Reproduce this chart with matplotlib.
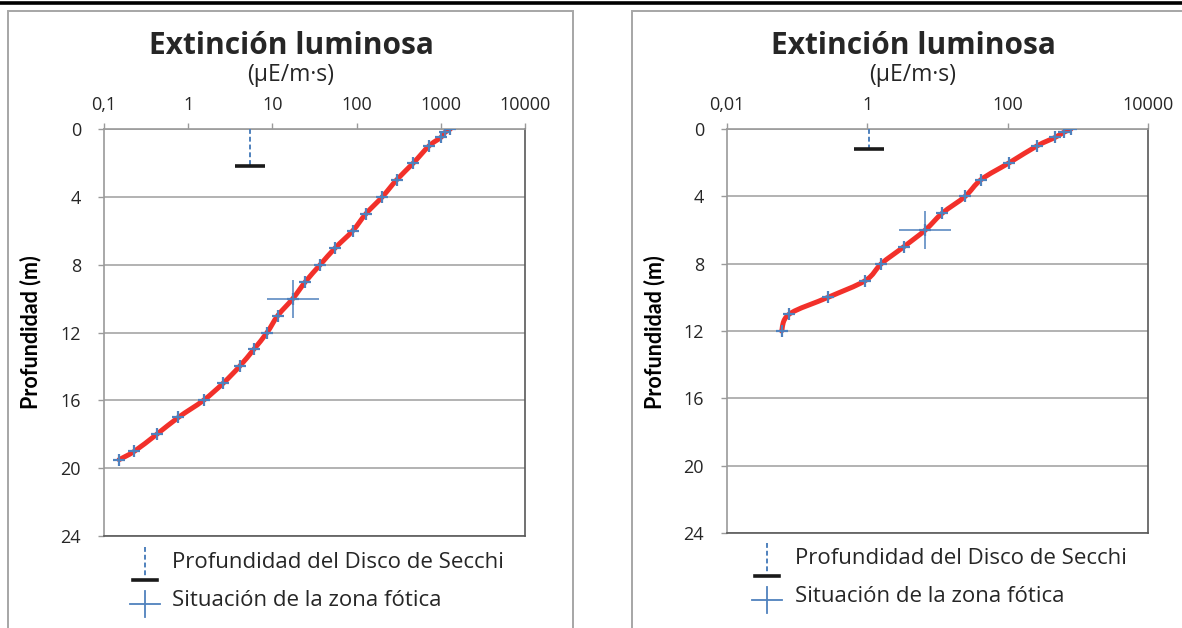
import numpy as np
import matplotlib
matplotlib.use('Agg')
import matplotlib.pyplot as plt
from matplotlib.path import Path
from matplotlib.patches import PathPatch, Rectangle
from matplotlib.lines import Line2D
from matplotlib.ticker import NullLocator

plt.rcParams['font.family'] = ['Open Sans', 'DejaVu Sans']
BOLDY = ['Lato', 'DejaVu Sans']

# ---- data ----
# left profile
depth_a = [0, 0.2, 0.5, 1, 2, 3, 4, 5, 6, 7, 8, 9, 10, 11, 12, 13, 14, 15, 16, 17, 18, 19, 19.5]
light_a = [1300, 1120, 1000, 724, 473, 299, 202, 129, 90, 56, 37, 24.7, 17.5, 11.6, 8.65, 6.0,
           4.07, 2.59, 1.52, 0.767, 0.424, 0.23, 0.151]
secchi_a = (5.4, 2.2)     # (light, depth)
fotica_a = (17.5, 10)

# right profile
depth_b = [0, 0.2, 0.5, 1, 2, 3, 4, 5, 6, 7, 8, 9, 10, 11, 12]
light_b = [800, 628, 474, 263, 106, 42, 24.8, 11.7, 6.7, 3.3, 1.585, 0.94, 0.276, 0.077, 0.06]
secchi_b = (1.05, 1.2)
fotica_b = (6.7, 6)

xticks_a = [0.1, 1, 10, 100, 1000, 10000]
xlabels_a = ['0,1', '1', '10', '100', '1000', '10000']
xticks_b = [0.01, 1, 100, 10000]
xlabels_b = ['0,01', '1', '100', '10000']
yticks = [0, 4, 8, 12, 16, 20, 24]

W, H = 1182, 628
RED = '#f2302a'
BLUE = '#4f81bd'
GRID = '#a6a6a6'
TXT = '#262626'


def smooth_path(x, y):
    # Excel-like smoothed line: Catmull-Rom bezier in (log x, depth) space
    pts = np.column_stack([np.log10(x), np.array(y, float)])
    n = len(pts)
    verts = [pts[0]]
    codes = [Path.MOVETO]
    for i in range(n - 1):
        p0 = pts[i - 1] if i > 0 else pts[i]
        p1 = pts[i]
        p2 = pts[i + 1]
        p3 = pts[i + 2] if i + 2 < n else pts[i + 1]
        verts += [p1 + (p2 - p0) / 6, p2 - (p3 - p1) / 6, p2]
        codes += [Path.CURVE4] * 3
    verts = np.array(verts)
    verts[:, 0] = 10 ** verts[:, 0]
    return Path(verts, codes)


def fx(x):
    return x / W


def fy(y):
    return 1 - y / H


fig = plt.figure(figsize=(W / 100, H / 100), dpi=100)

# panel frames and the black rule on top
fig.add_artist(Rectangle((fx(8), fy(700)), fx(573 - 8), (700 - 11) / H, transform=fig.transFigure,
                         fill=False, edgecolor=GRID, lw=1.4))
fig.add_artist(Rectangle((fx(632), fy(700)), fx(1300 - 632), (700 - 11) / H, transform=fig.transFigure,
                         fill=False, edgecolor=GRID, lw=1.4))
fig.add_artist(Line2D([0, 1], [fy(3), fy(3)], transform=fig.transFigure, color='black', lw=2.6))


def panel(rect, depth, light, secchi, fotica, xlim, xt, xl, cx, ylab_x, leg_x, leg_sym):
    ax = fig.add_axes(rect)
    ax.set_xscale('log')
    ax.set_xlim(*xlim)
    ax.set_ylim(24, 0)
    ax.xaxis.tick_top()
    ax.set_xticks(xt)
    ax.set_xticklabels(xl)
    ax.xaxis.set_minor_locator(NullLocator())
    ax.set_yticks(yticks)
    ax.yaxis.grid(True, color=GRID, lw=1.2)
    ax.set_axisbelow(True)
    for s in ['top', 'left']:
        ax.spines[s].set_color('#9a9a9a')
        ax.spines[s].set_linewidth(1.2)
    for s in ['right', 'bottom']:
        ax.spines[s].set_color('#595959')
        ax.spines[s].set_linewidth(1.2)
    ax.tick_params(axis='x', direction='out', length=4.5, width=1, color='#9a9a9a',
                   labelsize=13, labelcolor=TXT, pad=6)
    ax.tick_params(axis='y', direction='out', length=4.5, width=1, color='#9a9a9a',
                   labelsize=13, labelcolor=TXT, pad=12)

    ax.add_patch(PathPatch(smooth_path(light, depth), fill=False, edgecolor=RED, lw=3.6,
                           capstyle='round', joinstyle='round', zorder=3))
    ax.plot(light, depth, linestyle='none', marker='+', ms=8, mew=1.6, color=BLUE, zorder=4)

    # Secchi disk depth
    ax.vlines(secchi[0], 0, secchi[1], colors=BLUE, linestyles=(0, (2.5, 1.5)), lw=1.4, zorder=4)
    ax.plot([secchi[0]], [secchi[1]], marker='_', ms=22, mew=2.6, color='#1a1a1a', zorder=4)

    # photic zone
    ax.plot([fotica[0]], [fotica[1]], marker='_', ms=37, mew=1.1, color=BLUE, zorder=5)
    ax.plot([fotica[0]], [fotica[1]], marker='|', ms=28, mew=1.1, color=BLUE, zorder=5)

    fig.text(fx(cx), fy(46), 'Extinción luminosa', ha='center', va='center',
             fontsize=21.5, fontweight='bold', color=TXT)
    fig.text(fx(cx), fy(75), '(µE/m·s)', ha='center', va='center', fontsize=16.5, color=TXT)
    fig.text(fx(ylab_x), fy(332), 'Profundidad (m)', rotation=90, ha='center', va='center',
             fontsize=15.5, fontweight='bold', color='black', family=BOLDY)

    # legend below the plot
    sx, y1, y2, y3 = leg_sym
    fig.add_artist(Line2D([fx(sx), fx(sx)], [fy(y1), fy(y2)], transform=fig.transFigure,
                          color=BLUE, lw=1.4, linestyle=(0, (2.5, 1.5))))
    fig.add_artist(Line2D([fx(sx - 12), fx(sx + 12)], [fy(y2 + 2), fy(y2 + 2)], transform=fig.transFigure,
                          color='#1a1a1a', lw=2.6))
    fig.add_artist(Line2D([fx(sx - 15), fx(sx + 15)], [fy(y3), fy(y3)], transform=fig.transFigure,
                          color=BLUE, lw=1.3))
    fig.add_artist(Line2D([fx(sx), fx(sx)], [fy(y3 - 13), fy(y3 + 13)], transform=fig.transFigure,
                          color=BLUE, lw=1.3))
    fig.text(fx(leg_x), fy(y1 + 16), 'Profundidad del Disco de Secchi', ha='left', va='center',
             fontsize=16, color=TXT)
    fig.text(fx(leg_x), fy(y3 - 3), 'Situación de la zona fótica', ha='left', va='center',
             fontsize=16, color=TXT)
    return ax


panel([fx(104), fy(536), (525 - 104) / W, (536 - 129) / H], depth_a, light_a, secchi_a, fotica_a,
      (0.1, 10000), xticks_a, xlabels_a, 291, 31, 172, (145, 547, 578, 604))
panel([fx(727), fy(533), (1148 - 727) / W, (533 - 129) / H], depth_b, light_b, secchi_b, fotica_b,
      (0.01, 10000), xticks_b, xlabels_b, 913, 655, 795, (767, 543, 574, 600))

fig.savefig('out.png', dpi=100)
